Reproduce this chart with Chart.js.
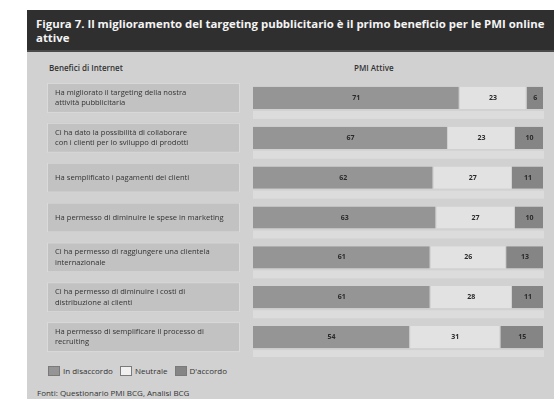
<!DOCTYPE html>
<html lang="it">
<head>
<meta charset="UTF-8">
<title>Figura 7</title>
<script src="https://cdn.jsdelivr.net/npm/chart.js"></script>
<style>
  html, body { margin: 0; padding: 0; background: #fff; overflow: hidden; }
  body { width: 554px; height: 399px; position: relative; font-family: "Open Sans", sans-serif; }
  #frame { position: absolute; left: 27px; top: 10px; width: 540px; height: 400px; background: #d1d1d1; overflow: hidden; }
  #title { position: absolute; left: 0; top: 0; width: 540px; height: 42px; background: #2f2f2f;
           border-bottom: 2px solid #4a4a4a; color: #f4f4f4; font-weight: bold; font-size: 11.4px;
           line-height: 14px; padding: 7px 0 0 9px; box-sizing: border-box; white-space: nowrap; }
  .hdr { position: absolute; top: 52px; font-size: 8px; color: #333; font-weight: 600; }
  #chartBox { position: absolute; left: 0; top: 68px; width: 527px; height: 279px; }
  #chartBox canvas { display: block; }
  #legend { position: absolute; left: 21px; top: 354px; font-size: 8px; color: #333; white-space: nowrap; }
  #legend span.sw { display: inline-block; width: 12px; height: 10px; vertical-align: middle; margin-right: 3px;
                    border: 1px solid #7a7a7a; box-sizing: border-box; }
  #legend span.it { margin-right: 5px; vertical-align: middle; }
  #source { position: absolute; left: 10px; top: 377px; font-size: 8px; color: #333; }
</style>
</head>
<body>
<div id="frame">
  <div id="title">Figura 7. Il miglioramento del targeting pubblicitario è il primo beneficio per le PMI online<br>attive</div>
  <div class="hdr" style="left:22px">Benefici di Internet</div>
  <div class="hdr" style="left:327px">PMI Attive</div>
  <div id="chartBox"><canvas id="chart" width="527" height="279"></canvas></div>
  <div id="legend">
    <span class="sw" style="background:#959595"></span><span class="it">In disaccordo</span>
    <span class="sw" style="background:#f0f0f0"></span><span class="it">Neutrale</span>
    <span class="sw" style="background:#858585"></span><span class="it">D'accordo</span>
  </div>
  <div id="source">Fonti: Questionario PMI BCG, Analisi BCG</div>
</div>

<script>
// categorie (benefici)
const categories = [
  ['Ha migliorato il targeting della nostra', 'attività pubblicitaria'],
  ['Ci ha dato la possibilità di collaborare', 'con i clienti per lo sviluppo di prodotti'],
  'Ha semplificato i pagamenti dei clienti',
  'Ha permesso di diminuire le spese in marketing',
  ['Ci ha permesso di raggiungere una clientela', 'internazionale'],
  ['Ci ha permesso di diminuire i costi di', 'distribuzione ai clienti'],
  ['Ha permesso di semplificare il processo di', 'recruiting']
];
const seriesNames = ['In disaccordo', 'Neutrale', "D'accordo"];
const firstValues = [71, 67, 62, 63, 61, 61, 54];
const neutralValues = [23, 23, 27, 27, 26, 28, 31];
const lastValues = [6, 10, 11, 10, 13, 11, 15];

const colors = ['#959595', '#e2e2e2', '#858585'];

// riquadri grigi dietro le etichette e fasce chiare dietro le barre
const boxesPlugin = {
  id: 'boxes',
  beforeDraw(chart) {
    const ctx = chart.ctx;
    const y = chart.scales.y;
    const area = chart.chartArea;
    ctx.save();
    categories.forEach((c, i) => {
      const cy = y.getPixelForValue(i);
      ctx.fillStyle = '#c2c2c2';
      ctx.fillRect(20, cy - 15, 193, 30);
      ctx.strokeStyle = '#dadada';
      ctx.lineWidth = 1;
      ctx.strokeRect(20.5, cy - 14.5, 192, 29);
      ctx.fillStyle = '#dcdcdc';
      ctx.fillRect(area.left, cy + 13, area.right - area.left, 8);
    });
    ctx.restore();
  }
};

// valori al centro dei segmenti
const valuesPlugin = {
  id: 'values',
  afterDatasetsDraw(chart) {
    const ctx = chart.ctx;
    ctx.save();
    ctx.font = 'bold 7px "Open Sans"';
    ctx.fillStyle = '#2a2a2a';
    ctx.textAlign = 'center';
    ctx.textBaseline = 'middle';
    chart.data.datasets.forEach((ds, di) => {
      chart.getDatasetMeta(di).data.forEach((bar, i) => {
        const p = bar.getProps(['x', 'y', 'base'], true);
        ctx.fillText(ds.data[i], (p.x + p.base) / 2, p.y);
      });
    });
    ctx.restore();
  }
};

new Chart(document.getElementById('chart'), {
  type: 'bar',
  data: {
    labels: categories,
    datasets: [firstValues, neutralValues, lastValues].map((d, i) => ({
      label: seriesNames[i],
      data: d,
      backgroundColor: colors[i],
      borderColor: '#d1d1d1',
      borderWidth: { left: 0, right: 1, top: 0, bottom: 0 },
      borderSkipped: false,
      barPercentage: 0.6,
      categoryPercentage: 0.93
    }))
  },
  options: {
    indexAxis: 'y',
    responsive: false,
    animation: false,
    layout: { padding: { left: 28, right: 10, top: 0, bottom: 0 } },
    plugins: { legend: { display: false }, tooltip: { enabled: false } },
    scales: {
      x: {
        stacked: true, min: 0, max: 100, display: false
      },
      y: {
        stacked: true,
        grid: { display: false },
        border: { display: false },
        afterFit(scale) {
          scale.width = 198;
          scale.paddingTop = 0;
          scale.paddingBottom = 0;
        },
        ticks: {
          crossAlign: 'far',
          color: '#333',
          font: { family: 'Open Sans', size: 7.6, lineHeight: 1.35 },
          padding: 0
        }
      }
    }
  },
  plugins: [boxesPlugin, valuesPlugin]
});
</script>
</body>
</html>
